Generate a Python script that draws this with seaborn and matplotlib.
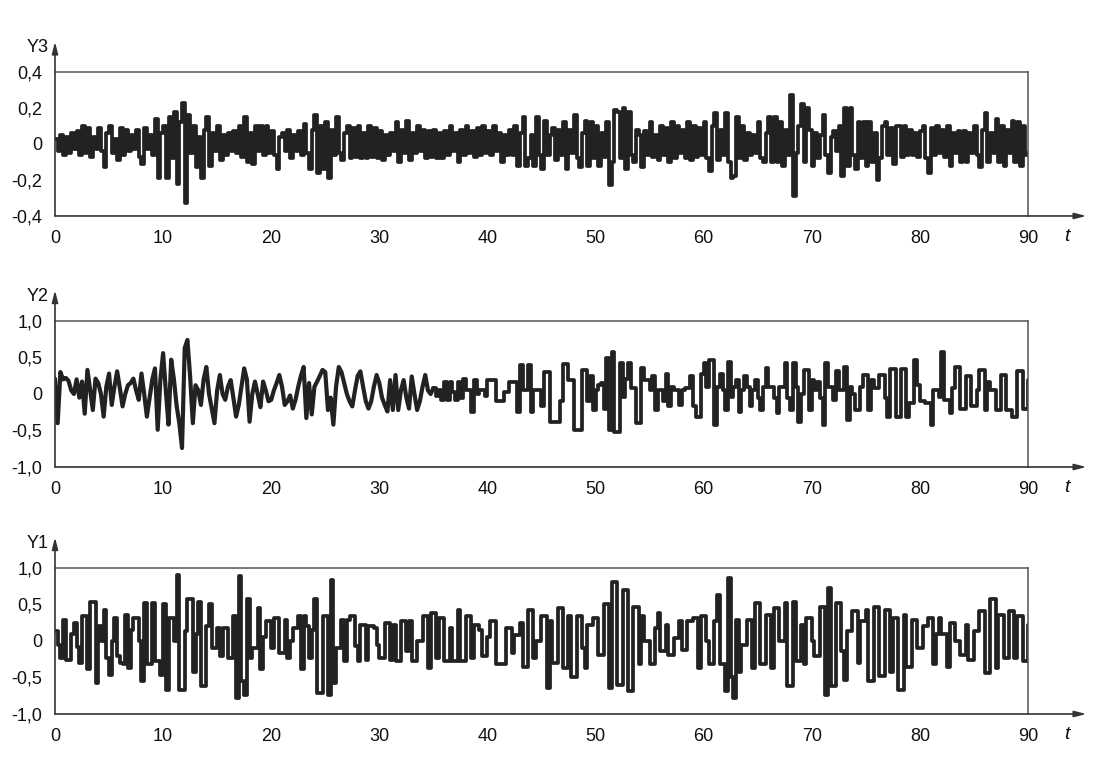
import numpy as np
import pandas as pd
import matplotlib
matplotlib.use("Agg")
import matplotlib.pyplot as plt
import seaborn as sns

# time axis: 0 .. 90 in steps of 0.25
t = np.arange(0, 90.01, 0.25)

# Y3, hundredths
y3_c = [
    3, -4, 5, -6, 4, -5, 6, -3, 7, -6, 10, -5, 9, -7, 4, -3, 9, -4, -13, 6,
    10, -5, 3, -9, 9, -6, 8, -4, 5, -3, 8, -7, -11, 9, -3, 5, -6, 14, -19, 6,
    10, -19, 15, -8, 18, -22, 12, 23, -33, 16, -5, 10, -13, 4, -19, 8, 15, -12, 6, -4,
    10, -9, 5, -6, 6, -4, 7, -5, 10, -7, 15, -10, 6, -11, 10, -4, 10, -6, 10, -5,
    7, -6, -14, 4, 6, -4, 8, -8, 5, -4, 7, -6, 11, -5, -14, 8, 16, -16, 10, -14,
    12, -19, 8, -6, 15, -5, -9, 6, 10, -8, 9, -7, 10, -8, 6, -8, 10, -7, 9, -8,
    7, -9, 5, -6, 6, -4, 12, -10, 8, -5, 13, -9, 6, -5, 10, -4, 8, -8, 7, -7,
    8, -8, 6, -8, 7, -6, 10, -4, 6, -10, 8, -6, 10, -5, 7, -7, 9, -6, 10, -5,
    7, -6, 10, -4, 6, -10, 5, -6, 8, -6, 10, -12, 6, 15, -12, -8, 5, -12, 15, -6,
    -14, 13, -6, 5, 9, -9, 8, -6, 12, -14, 8, -5, 16, -8, -13, 6, 13, -12, 12, -8,
    10, -12, 6, -7, 12, -23, -10, 19, 18, -8, 20, -14, 18, -6, -10, 8, 5, -13, 7, -6,
    12, -7, 5, -9, 10, -6, 9, -10, 12, -8, 10, -5, 8, -8, 12, -9, 10, -7, 9, -6,
    12, -8, -15, 10, 17, -9, 8, -6, 17, -10, -19, -18, 15, -8, 10, -9, 6, -6, 5, -5,
    12, -8, -10, 6, 15, -10, 15, -10, 12, -12, 8, -6, 27, -29, -5, 10, 22, -10, 20, 8,
    -12, 6, -8, 5, 16, -6, -16, 4, 7, -4, 10, -18, 20, -12, 20, -6, -14, 12, -8, 12,
    -12, 12, -10, 6, -20, -8, 10, 12, -6, 9, -11, 10, 10, -7, 10, -6, 8, -6, 6, -7,
    7, 10, -8, -16, 9, -6, 10, -5, 8, -7, 10, -12, 6, -5, 7, -10, 7, -10, 6, -5,
    10, -6, -13, 8, 17, -10, 6, -5, 14, -10, 10, -12, 8, -5, 13, -10, 12, -12, 10, -6,
    -5,
]

# Y2, hundredths (smooth part up to t = 35, stepped after)
y2_c = [
    21, -40, 30, 20, 22, 18, 5, 0, 20, -5, 17, -27, 33, 5, -22, 21, 15, 0, -31, 10,
    28, -15, 10, 31, 8, -17, 0, 12, 15, 21, 5, -8, 28, 0, -31, -5, 20, 35, -49, 20,
    56, 5, -42, 47, 20, -16, -40, -74, 63, 74, 24, -40, 12, 5, -15, 20, 37, 0, -20, -40,
    5, 26, 0, -8, 10, 19, -5, -31, -15, 10, 35, 20, -38, 0, 17, 0, -18, 17, 5, -10,
    -8, 5, 15, 26, 10, -15, -10, -2, -20, -8, 10, 25, 37, -33, 15, -28, 10, 17, 25, 33,
    30, -22, -5, -42, 10, 37, 30, 15, 0, -10, -17, 5, 25, 31, 10, -10, -20, -10, 10, 26,
    15, -5, -15, -24, 19, -22, 26, -22, 5, 19, -5, -20, 24, 0, -22, -10, 10, 26, 5, 0,
    8, -3, 5, -8, 17, -8, 17, 3, -8, 17, -5, 21, 5, 5, -24, 19, 0, 5, 5, -3,
    19, 19, 19, -10, -10, -10, 3, 3, 17, 17, 17, -24, 40, 5, 5, 40, -24, 5, 5, 5,
    -17, 30, 30, -38, -38, -38, -38, -10, 41, 41, 19, 19, -49, -49, -49, 33, 33, -10, 24, -22,
    5, 12, 15, -20, 49, -49, 58, -52, -52, 42, -4, 20, 42, 8, 8, -40, -40, 35, 19, 19,
    5, 24, -22, 5, 5, -10, 28, -17, 10, 5, 5, -15, 5, 8, 8, 24, -17, -31, -31, 28,
    42, 10, 47, 47, -42, 10, 28, 5, -22, 44, -4, 10, 19, -24, 5, 24, 10, -17, 5, 19,
    -5, -22, 10, 35, 10, 10, -5, -26, 10, 10, 42, -5, -22, 42, 10, -38, 0, 33, 33, -22,
    19, 5, 17, -5, -42, 42, 10, 10, -8, 31, 5, 5, 37, -36, 10, 0, -22, -22, 10, 26,
    26, -22, 19, 8, 8, 26, 26, -6, -31, 34, 34, -31, -31, 34, 34, -31, -13, -13, 47, 12,
    -10, -10, -13, -13, -42, 5, 5, -4, 58, -8, -8, -26, 8, 37, 37, -20, -20, 24, 24, -17,
    -17, 5, 33, 33, -22, 17, 5, 5, -22, -22, 26, 26, -22, -22, -31, -31, 31, 31, -20, -20,
    19,
]

# Y1, hundredths
y1_c = [
    13, -5, -23, 29, -26, -26, 10, 25, -8, -30, 34, 34, -39, 53, 53, -58, 20, 0, 43, -23,
    -46, 0, 32, -20, -30, -32, 36, -37, 15, 32, 32, 0, -55, 52, -32, -32, 52, -28, -28, -46,
    50, -67, 32, 32, 0, 91, -67, -67, 13, 57, 57, -42, 10, 54, -62, -62, 20, 50, -10, -10,
    18, -21, 18, 18, -23, -23, 34, -78, 89, -55, -74, 57, -23, -10, -10, 45, -39, 5, 27, 27,
    -10, 32, 32, -16, -16, 29, -23, 0, 18, 18, 34, -39, 34, 20, -23, 15, 57, -71, -71, 34,
    34, -74, 84, -58, -10, -10, 29, -28, 29, 34, 34, -7, -28, 22, 22, -26, 20, 20, 18, -5,
    -23, -23, 25, 25, -26, 22, -28, -28, 27, 27, -14, 27, -28, -28, 0, 0, 34, 34, -37, 38,
    38, -23, 32, 32, -28, -28, 18, -28, -28, 43, -28, -28, 34, 34, -23, 22, 22, 15, -21, -21,
    5, 27, 27, -32, -32, -32, -32, 18, 18, -16, 8, 8, 25, -35, -35, 43, 43, -23, 0, 0,
    34, 34, -64, 27, -30, -30, 45, 45, -37, -37, 34, -50, -50, 34, 34, -10, -37, 22, 22, 32,
    32, -19, -19, 50, 50, -64, 81, 81, -60, -60, 70, 70, -69, -69, 47, 47, -32, 34, 0, 0,
    -32, -32, 18, 38, -14, -14, 22, -19, -19, 4, 4, 27, -12, -12, 27, 27, 32, 32, -37, 34,
    34, 0, -32, -32, 27, 63, -32, -32, -69, 86, -50, -78, 29, -42, -5, -5, 29, 29, -37, 52,
    52, -32, -32, 36, 36, -37, 45, 45, 0, 0, 52, -62, -62, 54, -28, -28, 22, -32, 32, 32,
    0, -21, -21, 46, 46, -74, 73, -62, -62, 52, 52, -14, -53, 13, 13, 41, 41, -30, 27, 27,
    43, -55, -55, 47, 47, -48, -48, 43, 43, -42, 32, 32, -67, -67, 36, -35, -35, 29, 29, -10,
    -10, 20, 20, 32, 32, -32, 10, 32, 9, 9, -35, 25, 25, 0, 0, -19, -19, 22, -26, -26,
    13, 13, 41, 41, -44, -44, 57, 57, -37, 36, 36, -23, -23, 41, 41, -23, 34, 34, -28, -28,
    22,
]

y3 = np.array(y3_c) / 100
y2 = np.array(y2_c) / 100
y1 = np.array(y1_c) / 100

sns.set_style("white")
plt.rcParams['font.family'] = ['Liberation Sans', 'DejaVu Sans']

fig = plt.figure(figsize=(11.02, 7.57), dpi=100)

line_col = "#222222"
axis_col = "#555555"
lw = 2.7

panels = [
    # name, values, ylim, ticks, ax rect
    ("Y3", y3, 0.4, [-0.4, -0.2, 0, 0.2, 0.4], [0.0499, 0.7147, 0.8829, 0.1902]),
    ("Y2", y2, 1.0, [-1.0, -0.5, 0, 0.5, 1.0], [0.0499, 0.3831, 0.8829, 0.1929]),
    ("Y1", y1, 1.0, [-1.0, -0.5, 0, 0.5, 1.0], [0.0499, 0.0568, 0.8829, 0.1929]),
]


def fmt(v):
    if v == 0:
        return "0"
    return f"{v:.1f}".replace(".", ",")


for name, vals, lim, ticks, rect in panels:
    ax = fig.add_axes(rect)
    df = pd.DataFrame({"t": t, "v": vals})

    if name == "Y2":
        smooth = df[df["t"] <= 35]
        stepped = df[df["t"] >= 35]
        sns.lineplot(data=smooth, x="t", y="v", ax=ax, color=line_col,
                     linewidth=3.0, estimator=None)
        sns.lineplot(data=stepped, x="t", y="v", ax=ax, color=line_col,
                     linewidth=lw, estimator=None, drawstyle="steps-post")
    else:
        sns.lineplot(data=df, x="t", y="v", ax=ax, color=line_col,
                     linewidth=lw, estimator=None, drawstyle="steps-post")

    ax.set_xlim(0, 90)
    ax.set_ylim(-lim, lim)
    ax.set_xlabel("")
    ax.set_ylabel("")

    ax.set_xticks(range(0, 91, 10))
    ax.set_xticklabels([str(x) for x in range(0, 91, 10)], fontsize=13)
    ax.set_yticks(ticks)
    ax.set_yticklabels([fmt(v) for v in ticks], fontsize=13)
    ax.tick_params(direction="in", length=6, width=1, color=axis_col,
                   labelcolor="#111111")
    ax.tick_params(axis="y", pad=9)
    ax.tick_params(axis="x", pad=10)

    for side in ["top", "right"]:
        ax.spines[side].set_color(axis_col)
        ax.spines[side].set_linewidth(1.1)
    ax.spines["left"].set_visible(False)
    ax.spines["bottom"].set_visible(False)

    arrow = dict(arrowstyle="-|>,head_length=0.7,head_width=0.18",
                 color="#333333", lw=1.2, shrinkA=0, shrinkB=0)
    ax.annotate("", xy=(0, 1.21), xytext=(0, 0), xycoords="axes fraction",
                arrowprops=arrow, annotation_clip=False)
    ax.annotate("", xy=(1.06, 0), xytext=(0, 0), xycoords="axes fraction",
                arrowprops=arrow, annotation_clip=False)

    ax.text(-0.018, 1.17, name, transform=ax.transAxes, ha="center",
            va="center", fontsize=13, color="#111111")
    ax.text(1.04, -0.14, "t", transform=ax.transAxes, ha="center",
            va="center", fontsize=14, style="italic", color="#111111")

fig.savefig("out.png", dpi=100, facecolor="white")
